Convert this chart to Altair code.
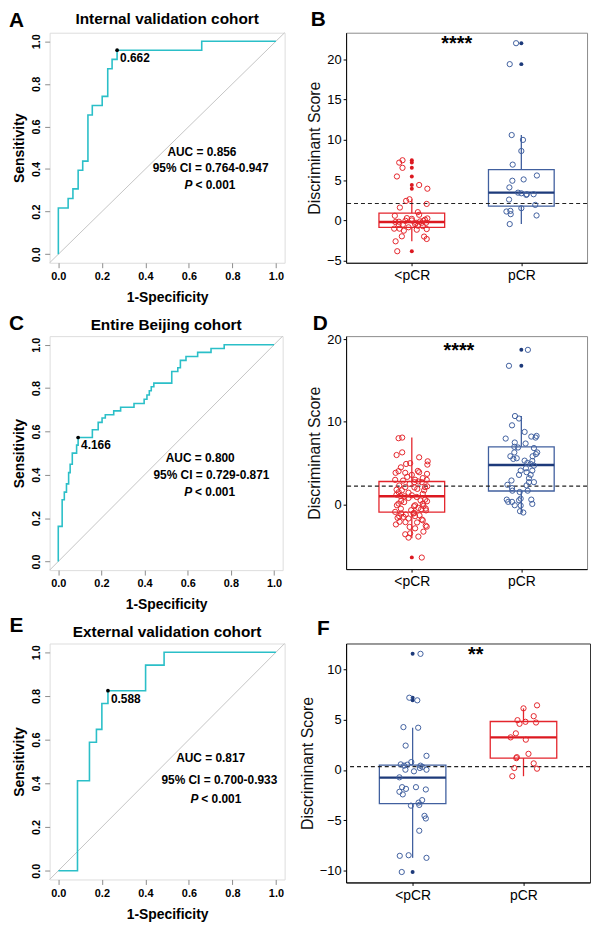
import altair as alt
import pandas as pd

FONT = "Liberation Sans"
CYAN = "#2bbfc8"
RED = "#e4252c"
RED_DARK = "#dc1820"
BLUE = "#41609f"
BLUE_DARK = "#1d3a7a"
FRAME = "#8c8c8c"

CATS = ["<pCR", "pCR"]

# ---------------- ROC curves (1-specificity at each step, sensitivity after the step)
A_FPR = [0, 0, 0.045, 0.067, 0.091, 0.112, 0.136, 0.156, 0.2015, 0.227, 0.247, 0.27, 0.659, 1.0]
A_SENS = [0, 0.217, 0.262, 0.307, 0.394, 0.437, 0.654, 0.698, 0.741, 0.871, 0.915, 0.958, 1.0, 1.0]
A_CUT = (0.27, 0.958, "0.662")
A_STATS = ["AUC = 0.856", "95% CI = 0.764-0.947", "< 0.001"]

C_FPR = [0, 0, 0.018, 0.028, 0.038, 0.048, 0.055, 0.065, 0.085, 0.092, 0.158, 0.185, 0.203, 0.218,
         0.257, 0.289, 0.351, 0.398, 0.411, 0.422, 0.431, 0.443, 0.526, 0.554, 0.566, 0.592, 0.646,
         0.708, 0.769, 1.0]
C_SENS = [0, 0.162, 0.285, 0.32, 0.358, 0.41, 0.449, 0.5, 0.537, 0.572, 0.608, 0.642, 0.662, 0.677,
          0.695, 0.712, 0.729, 0.749, 0.768, 0.788, 0.806, 0.823, 0.877, 0.894, 0.928, 0.946, 0.965,
          0.983, 1.0, 1.0]
C_CUT = (0.092, 0.572, "4.166")
C_STATS = ["AUC = 0.800", "95% CI = 0.729-0.871", "< 0.001"]

E_FPR = [0, 0.088, 0.143, 0.175, 0.2, 0.228, 0.401, 0.486, 1.0]
E_SENS = [0, 0.412, 0.588, 0.647, 0.765, 0.824, 0.941, 1.0, 1.0]
E_CUT = (0.228, 0.824, "0.588")
E_STATS = ["AUC = 0.817", "95% CI = 0.700-0.933", "< 0.001"]

# ---------------- Discriminant scores (value, horizontal jitter in category units)
B_LO_VALS = [7.47, 7.18, 6.53, 5.46, 4.40, 3.94, 2.63, 2.43, 2.05, 1.60, 1.03, 0.70, 0.58, 0.29, 0.25,
             0.20, -0.04, -0.16, 0.00, -0.12, -0.04, -0.29, -0.29, -0.45, -0.53, -0.50, -0.65, -1.02,
             -1.02, -1.27, -1.15, -1.07, -1.97, -2.00, -2.30, -2.59, -3.82, -0.20, -0.70, 0.10, -0.85, -0.30]
B_LO_JIT = [-0.085, -0.115, -0.085, -0.136, 0.067, 0.142, -0.021, -0.052, 0.136, -0.109, 0.055, 0.067,
            -0.155, -0.045, 0.142, 0.000, -0.058, -0.118, 0.000, 0.076, 0.106, 0.039, 0.130, 0.030,
            -0.082, -0.120, 0.055, -0.161, -0.112, -0.073, 0.045, 0.136, -0.091, 0.112, 0.136, -0.148,
            -0.133, -0.150, 0.100, 0.120, -0.030, 0.090]
B_LO_BOX = [-2.59, -0.86, -0.20, 0.90, 2.63]  # lower whisker, Q1, median, Q3, upper whisker
B_LO_OUT = [7.47, 7.18, 6.53, 5.46, 4.40, 3.94, -3.82]

B_HI_VALS = [22.0, 19.4, 10.6, 10.0, 8.62, 6.93, 5.58, 5.09, 4.93, 4.10, 3.45, 3.37, 3.17, 3.25, 3.25,
             2.59, 1.93, 1.52, 1.11, 1.19, 0.78, 0.62, -0.45]
B_HI_JIT = [-0.048, -0.106, -0.088, 0.015, 0.000, -0.079, 0.142, 0.021, -0.082, -0.109, -0.030, 0.000,
            0.045, 0.050, 0.112, -0.112, 0.127, 0.000, -0.136, -0.100, -0.097, 0.139, -0.106]
B_HI_BOX = [-0.45, 1.77, 3.45, 6.32, 10.6]
B_HI_OUT = [22.0, 19.4]
B_CUT = 2.1

D_LO_VALS = [8.02, 8.10, 5.99, 6.31, 4.91, 5.00, 5.23, 4.83, 5.71, 4.04, 3.84, 3.84, 4.07, 3.91, 3.59,
             3.71, 2.99, 3.35, 2.71, 2.79, 2.71, 2.99, 2.31, 2.11, 2.07, 2.11, 1.80, 1.72, 1.44, 1.72,
             1.04, 1.00, 1.12, 0.92, 0.60, -0.08, 0.12, 0.44, -0.08, -0.16, 0.40, -0.88, -1.08, -1.20,
             -0.68, -1.08, -0.40, -0.56, -0.48, -1.40, -1.48, -1.68, -1.40, -1.80, -2.40, -2.08, -2.12,
             -2.16, -2.55, -2.67, -3.27, -3.59, -3.47, -2.87, -3.99, -3.87, -6.40,
             2.50, 1.90, 1.50, 1.30, 0.80, 0.50, 0.30, -0.20, -0.50, -0.70, -1.00, -1.30, -1.60, -1.90,
             2.90, 3.20, 2.20, 1.20, 0.10, -2.70, 4.50, 3.00]
D_LO_JIT = [-0.121, -0.088, -0.139, -0.088, -0.052, -0.015, 0.145, 0.142, 0.067, -0.121, -0.148, -0.060,
            0.055, 0.067, 0.000, 0.139, -0.152, -0.042, 0.024, 0.060, 0.091, 0.136, -0.115, -0.060,
            0.024, 0.121, -0.139, -0.091, -0.030, 0.112, -0.106, -0.067, 0.000, 0.045, 0.121, -0.136,
            -0.121, -0.097, 0.030, 0.106, 0.139, -0.152, -0.097, -0.055, -0.006, 0.015, 0.060, 0.085,
            0.127, -0.115, -0.076, -0.030, 0.030, 0.091, -0.145, -0.112, -0.058, 0.048, 0.127, 0.136,
            0.106, -0.060, -0.015, 0.030, -0.030, 0.060, 0.091,
            -0.020, 0.050, -0.120, 0.100, -0.030, 0.080, -0.070, 0.020, -0.100, 0.130, 0.020, 0.070,
            -0.130, 0.100, -0.080, 0.100, 0.140, -0.140, 0.100, -0.020, -0.100, 0.030]
D_LO_BOX = [-4.07, -0.92, 1.00, 2.79, 8.10]
D_LO_OUT = [-6.38]

D_HI_VALS = [18.70, 16.77, 10.70, 10.40, 9.58, 8.78, 7.98, 7.50, 8.22, 8.30, 8.10, 7.38, 6.98, 6.90,
             6.83, 6.30, 6.30, 5.84, 5.84, 5.52, 5.60, 6.10, 5.03, 4.91, 4.71, 5.27, 5.31, 4.11, 4.39,
             3.91, 4.11, 3.59, 3.59, 3.19, 2.71, 2.71, 2.91, 2.39, 2.32, 1.99, 1.68, 1.68, 1.52, 0.60,
             0.33, 0.33, -0.08, 0.52, 0.72, 0.60, 0.08, -0.12, -0.80, -0.96]
D_HI_JIT = [0.060, -0.113, -0.058, -0.021, -0.085, 0.030, -0.143, -0.060, 0.091, 0.139, 0.130, 0.039,
            -0.064, -0.030, 0.115, 0.145, -0.064, -0.100, 0.103, -0.073, -0.042, 0.133, 0.055, 0.085,
            0.115, 0.100, 0.030, -0.006, 0.042, 0.048, 0.100, -0.021, 0.085, 0.070, 0.115, 0.070,
            -0.090, -0.127, 0.048, -0.085, -0.082, 0.058, -0.015, -0.133, -0.120, -0.085, -0.060,
            -0.021, -0.006, 0.091, 0.100, -0.006, -0.012, 0.018]
D_HI_BOX = [-0.96, 1.64, 4.79, 6.98, 10.70]
D_HI_OUT = [18.70, 16.77]
D_CUT = 2.24

F_LO_VALS = [11.57, 7.20, 6.94, 4.27, 4.21, 2.43, 1.41, 0.56, 0.43, 0.53, 0.79, 0.43, 0.30, 0.03, -0.13,
             0.20, 0.03, -0.73, -1.71, -1.88, -2.17, -2.43, -1.71, -1.94, -3.00, -3.25, -3.48, -3.55,
             -4.57, -4.83, -6.05, -8.55, -8.49, -8.75, -10.16]
F_LO_JIT = [0.071, -0.030, 0.042, -0.083, 0.050, -0.063, 0.125, -0.107, -0.077, -0.048, -0.012, 0.071,
            0.089, -0.065, 0.012, 0.065, 0.125, -0.119, -0.095, -0.060, -0.119, -0.089, 0.030, 0.119,
            0.086, 0.054, 0.060, -0.015, 0.107, 0.119, 0.060, -0.116, -0.036, 0.125, -0.098]
F_LO_BOX = [-8.75, -3.35, -0.76, 0.49, 4.21]
F_LO_OUT = [11.57, 7.20, 6.94, -10.16]

F_HI_VALS = [6.14, 6.44, 5.36, 4.96, 4.60, 4.80, 4.73, 3.65, 3.25, 3.02, 1.18, 1.28, 1.61, 0.66, 0.20,
             0.13, -0.62]
F_HI_JIT = [0.000, 0.122, 0.092, -0.054, -0.036, 0.018, 0.113, -0.069, -0.116, 0.021, -0.065, -0.060,
            0.045, 0.092, -0.083, 0.122, -0.101]
F_HI_BOX = [-0.62, 1.18, 3.25, 4.83, 6.14]
F_HI_OUT = []
F_CUT = 0.33


def one_row(text):
    return pd.DataFrame({"t": [text]})


def letter_layer(letter, dx, dy):
    return alt.Chart(one_row(letter)).mark_text(
        fontSize=21, fontWeight="bold", font=FONT, align="center", baseline="alphabetic", color="black"
    ).encode(x=alt.value(dx), y=alt.value(dy), text="t:N")


def roc_panel(fpr, sens, cut, stats, auc_xy, ci_xy, p_xy, letter, ldx, ldy, title, tdy, w, h):
    xsc = alt.Scale(domain=[-0.04, 1.04], nice=False, zero=False)
    ysc = alt.Scale(domain=[-0.04, 1.04], nice=False, zero=False)
    common = dict(values=[0, 0.2, 0.4, 0.6, 0.8, 1.0], format=".1f", grid=False, domain=False,
                  labelFontSize=11, labelFontWeight="bold", labelColor="black", labelFont=FONT,
                  tickColor="#8c8c8c", tickSize=5, labelPadding=3, labelFlush=False,
                  titleFontSize=14, titleFontWeight="bold", titleColor="black", titleFont=FONT)
    xax = alt.Axis(title="1-Specificity", titlePadding=9, **common)
    yax = alt.Axis(title="Sensitivity", titlePadding=4, labelAngle=270, labelAlign="center",
                   labelBaseline="bottom", **common)
    X = alt.X("fpr:Q", scale=xsc, axis=xax)
    Y = alt.Y("sens:Q", scale=ysc, axis=yax)

    diag_df = pd.DataFrame({"fpr": [-0.04], "sens": [-0.04], "fpr2": [1.04], "sens2": [1.04]})
    diag = alt.Chart(diag_df).mark_rule(color="#c4c4c4", strokeWidth=1).encode(
        x=X, y=Y, x2="fpr2:Q", y2="sens2:Q")

    curve = pd.DataFrame({"fpr": fpr, "sens": sens, "i": list(range(len(fpr)))})
    line = alt.Chart(curve).mark_line(interpolate="step-after", color=CYAN, strokeWidth=1.6).encode(
        x=X, y=Y, order="i:Q")

    cut_df = pd.DataFrame({"fpr": [cut[0]], "sens": [cut[1]], "t": [cut[2]]})
    pt = alt.Chart(cut_df).mark_circle(size=14, color="black", opacity=1).encode(x=X, y=Y)
    lab = alt.Chart(cut_df).mark_text(align="left", baseline="middle", dx=3, dy=8, fontSize=12,
                                      fontWeight="bold", font=FONT, color="black").encode(
        x=X, y=Y, text="t:N")

    ann_df = pd.DataFrame({"fpr": [auc_xy[0], ci_xy[0]], "sens": [auc_xy[1], ci_xy[1]],
                           "t": [stats[0], stats[1]]})
    ann = alt.Chart(ann_df).mark_text(align="center", baseline="middle", fontSize=12,
                                      fontWeight="bold", font=FONT, color="black").encode(
        x=X, y=Y, text="t:N")
    p_df = pd.DataFrame({"fpr": [p_xy[0]], "sens": [p_xy[1]], "t": [stats[2]], "p": ["P"]})
    ptxt = alt.Chart(p_df).mark_text(align="left", baseline="middle", fontSize=12,
                                     fontWeight="bold", font=FONT, color="black").encode(
        x=X, y=Y, text="t:N")
    pit = alt.Chart(p_df).mark_text(align="right", baseline="middle", dx=-3, fontSize=12,
                                    fontWeight="bold", fontStyle="italic", font=FONT,
                                    color="black").encode(x=X, y=Y, text="p:N")
    tit = alt.Chart(one_row(title)).mark_text(
        fontSize=15.5, fontWeight="bold", font=FONT, align="center", baseline="middle", color="black"
    ).encode(x=alt.value(w / 2), y=alt.value(tdy), text="t:N")
    return alt.layer(diag, line, pt, lab, ann, ptxt, pit, letter_layer(letter, ldx, ldy), tit).properties(
        width=w, height=h)


def box_panel(groups, cutoff, ydomain, yvalues, stars, star_xy, letter, ldx, ldy, w, h, frame):
    pts_rows, box_rows, wh_rows, out_rows = [], [], [], []
    for pos, (vals, jit, stats, outs, col, dark) in enumerate(groups, start=1):
        for v, j in zip(vals, jit):
            pts_rows.append({"x": pos + j, "y": v, "col": col})
        lo, q1, med, q3, hi = stats
        box_rows.append({"xl": pos - 0.3, "xr": pos + 0.3, "q1": q1, "q3": q3, "med": med,
                         "col": col, "dark": dark})
        wh_rows.append({"pos": pos, "a": lo, "b": q1, "col": col})
        wh_rows.append({"pos": pos, "a": q3, "b": hi, "col": col})
        for o in outs:
            out_rows.append({"pos": pos, "y": o, "col": dark})
    pts = pd.DataFrame(pts_rows)
    box = pd.DataFrame(box_rows)
    wh = pd.DataFrame(wh_rows)
    out = pd.DataFrame(out_rows if out_rows else [{"pos": 1, "y": None, "col": "black"}])

    xsc = alt.Scale(domain=[0.4, 2.6], nice=False, zero=False)
    ysc = alt.Scale(domain=ydomain, nice=False, zero=False)
    label_expr = "datum.value == 1 ? '%s' : '%s'" % (CATS[0], CATS[1])
    xax = alt.Axis(values=[1, 2], labelExpr=label_expr, title=None, grid=False, labelFontSize=14,
                   labelColor="black", labelFont=FONT, tickSize=3, tickColor="black",
                   domainColor="black", labelPadding=3)
    yax = alt.Axis(values=yvalues, title="Discriminant Score", grid=False, labelFontSize=13,
                   labelColor="black", labelFont=FONT, tickSize=3, tickColor="black",
                   domainColor="black", labelPadding=2, titleFontSize=16, titleFontWeight="normal",
                   titleColor="#111", titleFont=FONT, titlePadding=4)

    rect = alt.Chart(box).mark_rect(fill="white", strokeWidth=1.3).encode(
        x=alt.X("xl:Q", scale=xsc, axis=xax), x2="xr:Q",
        y=alt.Y("q1:Q", scale=ysc, axis=yax), y2="q3:Q",
        stroke=alt.Stroke("col:N", scale=None))
    whisk = alt.Chart(wh).mark_rule(strokeWidth=1.3).encode(
        x=alt.X("pos:Q", scale=xsc, axis=xax), y=alt.Y("a:Q", scale=ysc, axis=yax), y2="b:Q",
        color=alt.Color("col:N", scale=None))
    median = alt.Chart(box).mark_rule(strokeWidth=2.4).encode(
        x=alt.X("xl:Q", scale=xsc, axis=xax), x2="xr:Q", y=alt.Y("med:Q", scale=ysc, axis=yax),
        color=alt.Color("dark:N", scale=None))
    cut = alt.Chart(pd.DataFrame({"c": [cutoff]})).mark_rule(
        color="#222", strokeDash=[4, 3], strokeWidth=1.2).encode(y=alt.Y("c:Q", scale=ysc, axis=yax))
    outl = alt.Chart(out).mark_circle(size=16, opacity=1).encode(
        x=alt.X("pos:Q", scale=xsc, axis=xax), y=alt.Y("y:Q", scale=ysc, axis=yax),
        color=alt.Color("col:N", scale=None))
    jit = alt.Chart(pts).mark_point(shape="circle", filled=False, size=28, strokeWidth=1,
                                    opacity=1).encode(
        x=alt.X("x:Q", scale=xsc, axis=xax), y=alt.Y("y:Q", scale=ysc, axis=yax),
        color=alt.Color("col:N", scale=None))
    star = alt.Chart(pd.DataFrame({"x": [star_xy[0]], "y": [star_xy[1]], "t": [stars]})).mark_text(
        fontSize=20, fontWeight="bold", font=FONT, align="center", baseline="middle", dy=3,
        color="black").encode(x=alt.X("x:Q", scale=xsc, axis=xax),
                              y=alt.Y("y:Q", scale=ysc, axis=yax), text="t:N")
    return alt.layer(rect, whisk, median, cut, outl, jit, star, letter_layer(letter, ldx, ldy)).properties(
        width=w, height=h, view=alt.ViewBackground(stroke=frame, strokeWidth=1))


pA = roc_panel(A_FPR, A_SENS, A_CUT, A_STATS, (0.66, 0.48), (0.70, 0.405), (0.63, 0.326),
               "A", -33.5, -6, "Internal validation cohort", -14, 237, 232)
pC = roc_panel(C_FPR, C_SENS, C_CUT, C_STATS, (0.658, 0.477), (0.71, 0.40), (0.634, 0.32),
               "C", -33.5, -6, "Entire Beijing cohort", -11.5, 235, 236)
pE = roc_panel(E_FPR, E_SENS, E_CUT, E_STATS, (0.70, 0.514), (0.74, 0.415), (0.657, 0.329),
               "E", -33.5, -12, "External validation cohort", -11.5, 237, 238)

pB = box_panel([(B_LO_VALS, B_LO_JIT, B_LO_BOX, B_LO_OUT, RED, RED_DARK),
                (B_HI_VALS, B_HI_JIT, B_HI_BOX, B_HI_OUT, BLUE, BLUE_DARK)],
               B_CUT, [-5.25, 23.3], [-5, 0, 5, 10, 15, 20], "****", (1.41, 22.3),
               "B", -28, -7, 243, 232, "#8c8c8c")
pD = box_panel([(D_LO_VALS, D_LO_JIT, D_LO_BOX, D_LO_OUT, RED, RED_DARK),
                (D_HI_VALS, D_HI_JIT, D_HI_BOX, D_HI_OUT, BLUE, BLUE_DARK)],
               D_CUT, [-7.8, 20.36], [0, 10, 20], "****", (1.43, 18.9),
               "D", -26, -6, 243, 235, "#8c8c8c")
pF = box_panel([(F_LO_VALS, F_LO_JIT, F_LO_BOX, F_LO_OUT, BLUE, BLUE_DARK),
                (F_HI_VALS, F_HI_JIT, F_HI_BOX, F_HI_OUT, RED, RED_DARK)],
               F_CUT, [-11.2, 12.6], [-10, -5, 0, 5, 10], "**", (1.57, 11.7),
               "F", -23, -8.5, 246, 241, "#333333")

chart = alt.concat(pA, pB, pC, pD, pE, pF, columns=2,
                   spacing={"row": 74, "column": 62}, bounds="flush", align="each",
                   padding={"top": -4, "left": 0, "right": 0, "bottom": 0}
                   ).configure_view(stroke=FRAME, strokeWidth=1).configure(font=FONT)

chart.save("out.html", embed_options={"renderer": "svg", "actions": False})
